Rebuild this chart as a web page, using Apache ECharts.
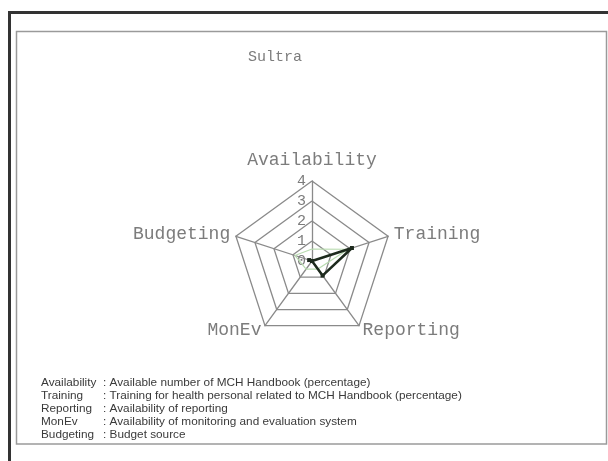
<!DOCTYPE html>
<html>
<head>
<meta charset="utf-8">
<script src="https://cdn.jsdelivr.net/npm/echarts@6/dist/echarts.min.js"></script>
<style>
html,body{margin:0;padding:0;background:#fff;}
#c{width:608px;height:461px;}
</style>
</head>
<body>
<div id="c"></div>
<script>
// Axes listed clockwise from the top, as in the picture
var indicators = ['Availability', 'Training', 'Reporting', 'MonEv', 'Budgeting'];
var maxValue = 4;
var tickValues = [0, 1, 2, 3, 4];
var seriesMain = [0, 2.1, 0.9, 0, 0.15];
var seriesRef = [0.6, 1.9, 0.5, 0.5, 0.9];
var legendKeys = ['Availability', 'Training', 'Reporting', 'MonEv', 'Budgeting'];
var legendDescs = [
  'Available number of MCH Handbook (percentage)',
  'Training for health personal related to MCH Handbook (percentage)',
  'Availability of reporting',
  'Availability of monitoring and evaluation system',
  'Budget source'
];
var titleText = 'Sultra';

// ECharts radar runs counter-clockwise; reorder so the picture reads clockwise.
var order = [0, 4, 3, 2, 1];
function reorder(arr) { return order.map(function (i) { return arr[i]; }); }

var chart = echarts.init(document.getElementById('c'), null, {renderer: 'canvas'});
var mono = 'Liberation Mono';
var gray = '#7c7c7c';
var cx = 312, cy = 261, R = 80;

var legendItems = [];
legendKeys.forEach(function (k, i) {
  legendItems.push({
    type: 'text', x: 0, y: i * 13,
    style: {text: k, font: '11px "Liberation Sans"', fill: '#3a3a3a', textVerticalAlign: 'middle'}
  });
  legendItems.push({
    type: 'text', x: 58, y: i * 13,
    style: {text: ': ' + legendDescs[i], font: '11px "Liberation Sans"', fill: '#3a3a3a', textVerticalAlign: 'middle'}
  });
});

var option = {
  backgroundColor: '#fff',
  animation: false,
  title: {
    text: titleText, left: 270, top: 45, textAlign: 'center',
    textStyle: {fontFamily: mono, fontSize: 15, fontWeight: 'normal', color: gray}
  },
  radar: {
    center: [cx, cy], radius: R, startAngle: 90, shape: 'polygon', splitNumber: 4,
    indicator: reorder(indicators).map(function (n) { return {name: n, min: 0, max: maxValue}; }),
    nameGap: 6,
    axisName: {
      fontFamily: mono, fontSize: 18, color: gray,
      formatter: function (name) { return name === 'Availability' ? '{t|' + name + '}' : name; },
      rich: {t: {fontFamily: mono, fontSize: 18, color: gray, padding: [0, 0, 6, 0]}}
    },
    axisLine: {lineStyle: {color: '#8a8a8a', width: 1.3}},
    splitLine: {lineStyle: {color: '#8a8a8a', width: 1.3}},
    splitArea: {show: false},
    axisTick: {show: false},
    axisLabel: {show: false}
  },
  polar: {center: [cx, cy], radius: R},
  angleAxis: {show: false, startAngle: 90, min: 0, max: 360},
  radiusAxis: {
    min: 0, max: maxValue, interval: 1,
    axisLine: {show: false}, axisTick: {show: false}, splitLine: {show: false},
    axisLabel: {
      color: gray, fontFamily: mono, fontSize: 15, margin: 6,
      formatter: function (v) { return tickValues.indexOf(v) >= 0 ? String(v) : ''; }
    }
  },
  series: [
    {
      type: 'radar', z: 3, symbol: 'none',
      lineStyle: {color: '#b9dcb0', width: 1.2},
      data: [{value: reorder(seriesRef)}]
    },
    {
      type: 'radar', z: 4, symbol: 'rect', symbolSize: 4,
      itemStyle: {color: '#1d2a1d'},
      lineStyle: {color: '#1d2a1d', width: 2.5},
      data: [{value: reorder(seriesMain)}]
    }
  ],
  graphic: [
    {type: 'rect', shape: {x: 9.5, y: 12.5, width: 700, height: 600}, style: {fill: 'none', stroke: '#333', lineWidth: 3}, z: 10},
    {type: 'rect', shape: {x: 16.5, y: 31.5, width: 590, height: 412.5}, style: {fill: 'none', stroke: '#9a9a9a', lineWidth: 1.5}, z: 10},
    {type: 'group', x: 41, y: 383, scaleX: 1.07, scaleY: 1, children: legendItems, z: 10}
  ]
};
chart.setOption(option);
</script>
</body>
</html>
